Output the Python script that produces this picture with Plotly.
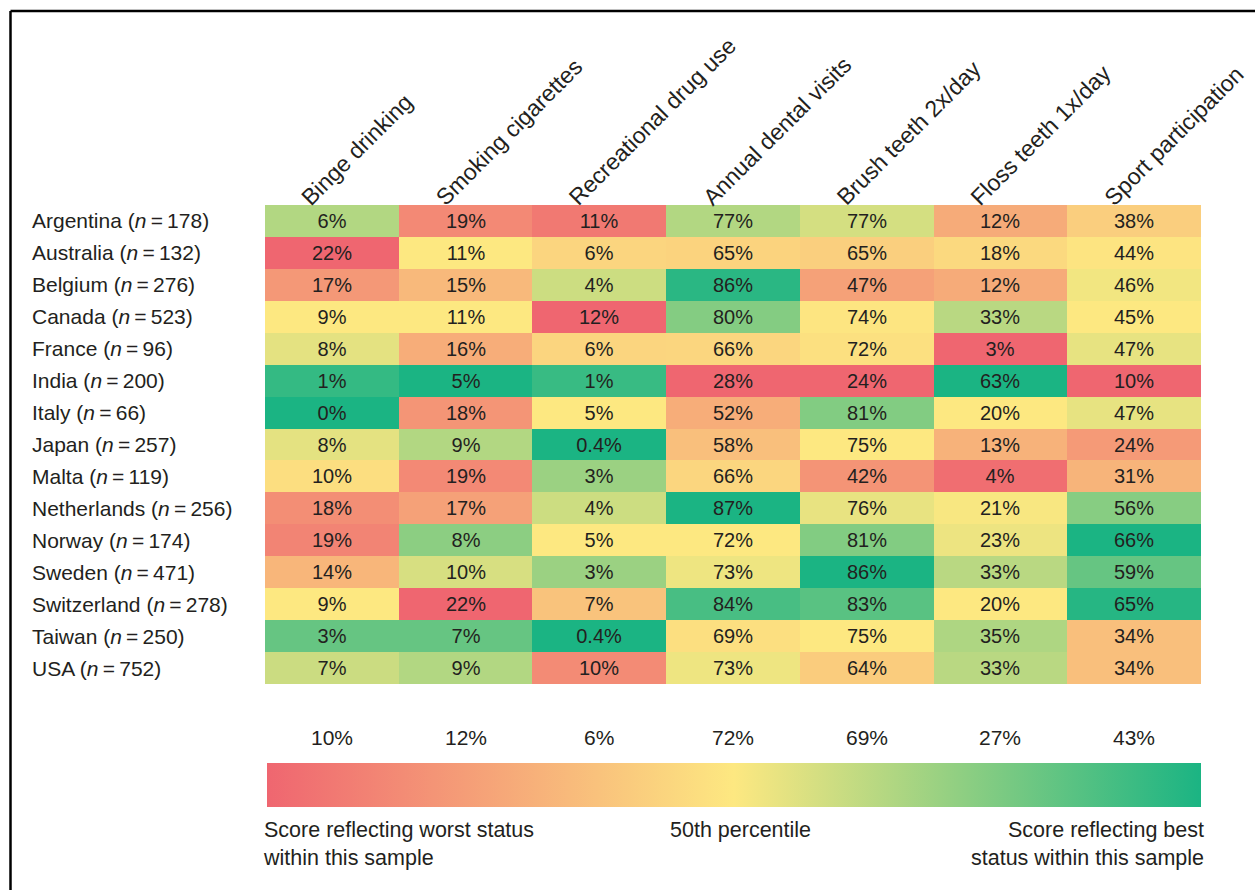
import numpy as np
import plotly.graph_objects as go

W, H = 1255, 890

behaviours = ["Binge drinking", "Smoking cigarettes", "Recreational drug use",
              "Annual dental visits", "Brush teeth 2x/day", "Floss teeth 1x/day",
              "Sport participation"]
lower_is_better = [True, True, True, False, False, False, False]

countries = ["Argentina", "Australia", "Belgium", "Canada", "France", "India", "Italy",
             "Japan", "Malta", "Netherlands", "Norway", "Sweden", "Switzerland",
             "Taiwan", "USA"]
sample_n = [178, 132, 276, 523, 96, 200, 66, 257, 119, 256, 174, 471, 278, 250, 752]

binge = [6, 22, 17, 9, 8, 1, 0, 8, 10, 18, 19, 14, 9, 3, 7]
smoking = [19, 11, 15, 11, 16, 5, 18, 9, 19, 17, 8, 10, 22, 7, 9]
drugs = [11, 6, 4, 12, 6, 1, 5, 0.4, 3, 4, 5, 3, 7, 0.4, 10]
dental = [77, 65, 86, 80, 66, 28, 52, 58, 66, 87, 72, 73, 84, 69, 73]
brush = [77, 65, 47, 74, 72, 24, 81, 75, 42, 76, 81, 86, 83, 75, 64]
floss = [12, 18, 12, 33, 3, 63, 20, 13, 4, 21, 23, 33, 20, 35, 33]
sport = [38, 44, 46, 45, 47, 10, 47, 24, 31, 56, 66, 59, 65, 34, 34]

overall = ["10%", "12%", "6%", "72%", "69%", "27%", "43%"]

columns = [binge, smoking, drugs, dental, brush, floss, sport]

# Excel-style 3-colour scale per column: worst -> 50th percentile -> best
def score(col, low_better):
    v = np.array(col, dtype=float)
    med = np.percentile(v, 50)
    lo, hi = v.min(), v.max()
    s = np.where(v <= med, 0.5 * (v - lo) / (med - lo), 0.5 + 0.5 * (v - med) / (hi - med))
    return 1 - s if low_better else s

Z = np.column_stack([score(c, lb) for c, lb in zip(columns, lower_is_better)])
vals = np.column_stack(columns)

def fmt(v):
    return f"{v:g}%"

text = [[fmt(vals[i, j]) for j in range(len(behaviours))] for i in range(len(countries))]

colorscale = [[0.0, "#EF6670"], [0.5, "#FDE881"], [1.0, "#1BB483"]]

FONT = "Liberation Sans, Arial, Helvetica, sans-serif"
TXT = "#231F20"

x0, x1 = 265, 1201
y0, y1 = 205, 684

fig = go.Figure()
fig.add_trace(go.Heatmap(
    z=Z, x=behaviours, y=countries, text=text, texttemplate="%{text}",
    textfont=dict(family=FONT, size=20, color=TXT),
    colorscale=colorscale, zmin=0, zmax=1, xgap=0, ygap=0,
    hoverinfo="skip",
    colorbar=dict(orientation="h", lenmode="pixels", len=x1 - 267,
                  thicknessmode="pixels", thickness=44,
                  x=(267 + x1) / 2 / W, xanchor="center",
                  y=1 - 763 / H, yanchor="top",
                  xpad=0, ypad=0, outlinewidth=0, showticklabels=False, ticks=""),
))

fig.update_layout(
    width=W, height=H, margin=dict(l=0, r=0, t=0, b=0, autoexpand=False),
    paper_bgcolor="white", plot_bgcolor="white",
    xaxis=dict(domain=[x0 / W, x1 / W], range=[-0.5, len(behaviours) - 0.5],
               autorange=False, showticklabels=False, showgrid=False,
               zeroline=False, ticks=""),
    yaxis=dict(domain=[1 - y1 / H, 1 - y0 / H], range=[len(countries) - 0.5, -0.5],
               autorange=False, showticklabels=False, showgrid=False,
               zeroline=False, ticks=""),
    font=dict(family=FONT, color=TXT),
)

ann = []
for c, n in zip(countries, sample_n):
    ann.append(dict(x=30 / W, xref="paper", xanchor="left", y=c, yref="y",
                    yanchor="middle",
                    text=f"{c} (<i>n</i>\u2009=\u2009{n})", showarrow=False,
                    font=dict(size=21, family=FONT, color=TXT)))
for b in behaviours:
    ann.append(dict(x=b, xref="x", xanchor="left", xshift=-38,
                    y=1 - 213 / H, yref="paper", yanchor="bottom",
                    text=b, textangle=-45, showarrow=False,
                    font=dict(size=23, family=FONT, color=TXT)))
for b, o in zip(behaviours, overall):
    ann.append(dict(x=b, xref="x", y=1 - 737 / H, yref="paper", yanchor="middle",
                    text=o, showarrow=False, font=dict(size=21, family=FONT, color=TXT)))

ann.append(dict(x=261 / W, xref="paper", xanchor="left", y=1 - 816 / H, yref="paper",
                yanchor="top", align="left", showarrow=False,
                text="Score reflecting worst status<br>within this sample",
                font=dict(size=21.5, family=FONT, color=TXT)))
ann.append(dict(x=740 / W, xref="paper", xanchor="center", y=1 - 816 / H, yref="paper",
                yanchor="top", showarrow=False, text="50th percentile",
                font=dict(size=21.5, family=FONT, color=TXT)))
ann.append(dict(x=1206 / W, xref="paper", xanchor="right", y=1 - 816 / H, yref="paper",
                yanchor="top", align="right", showarrow=False,
                text="Score reflecting best<br>status within this sample",
                font=dict(size=21.5, family=FONT, color=TXT)))
fig.update_layout(annotations=ann)

fig.update_layout(shapes=[
    dict(type="line", xref="paper", yref="paper", x0=10.5 / W, x1=1.01,
         y0=1 - 11 / H, y1=1 - 11 / H, line=dict(color="black", width=2.5)),
    dict(type="line", xref="paper", yref="paper", x0=10.5 / W, x1=10.5 / W,
         y0=1 - 11 / H, y1=-0.01, line=dict(color="black", width=2.5)),
])

fig.write_html("out.html")
